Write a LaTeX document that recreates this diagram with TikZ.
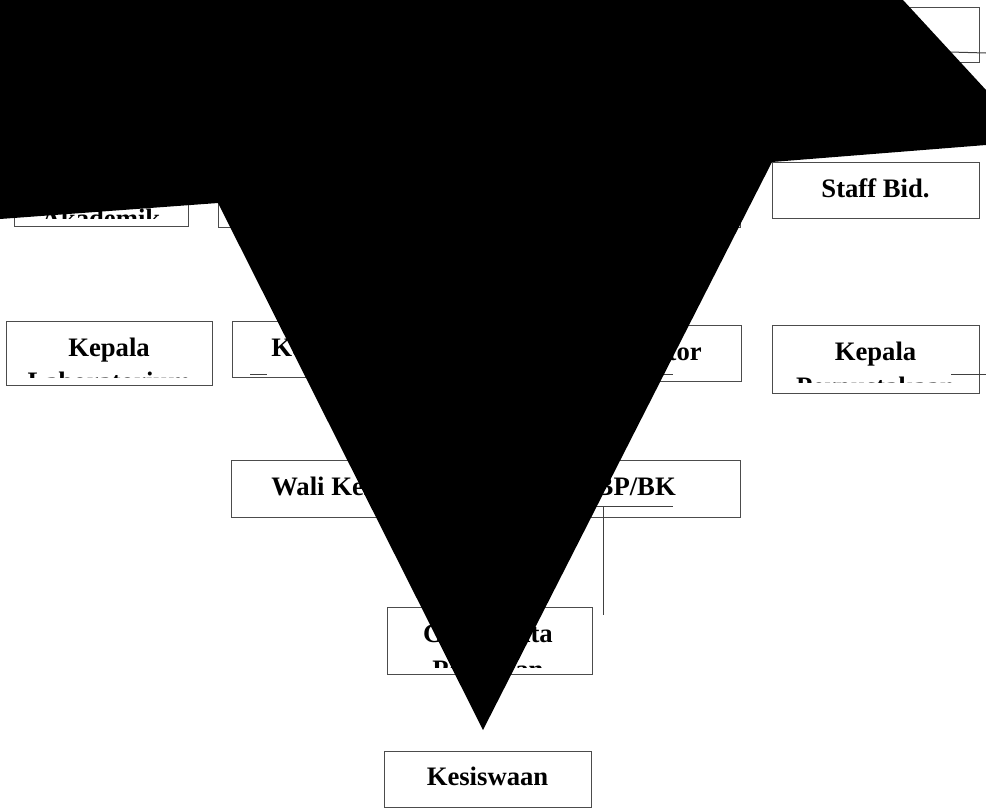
\documentclass[tikz,border=0pt]{standalone}
\usepackage{fontspec}
\setmainfont{Liberation Serif}
\usetikzlibrary{positioning}

\begin{document}
\begin{tikzpicture}[x=0.75pt,y=-0.75pt]
  \tikzset{box/.style= {draw=black!70, line width=0.75pt, rectangle, inner sep=0pt},
    lbl/.style= {inner sep=0pt, anchor=base, font=\fontsize{20}{24}\selectfont\bfseries},
    wire/.style= {draw=black!75, line width=0.75pt}}
  \clip (0,0) rectangle (986,810);
  \fill[white] (0,0) rectangle (986,810);

  % first row
  \node[box, minimum width=155.25pt, minimum height=41.25pt] (top) at (875.5,34.5) {};
  \node[box, minimum width=130.5pt, minimum height=45pt] (akademik) at (101,196) {};
  \node[box, minimum width=391.5pt, minimum height=45.75pt] (wakil) at (479,196.5) {};
  \node[box, minimum width=155.25pt, minimum height=42pt] (staff) at (875.5,190) {};
  \node[lbl] (stafftxt) at (875.5,197) {Staff Bid.};
  \begin{scope}
    \clip (14,166) rectangle (188,218);
    \node[lbl] (akademiktxt) at (101,227) {Akademik};
  \end{scope}

  % second row
  \node[box, minimum width=154.5pt, minimum height=48pt] (lab) at (109,353) {};
  \node[box, minimum width=153pt, minimum height=42pt] (tu) at (334,349) {};
  \node[box, minimum width=165.75pt, minimum height=42pt] (koord) at (630.5,353) {};
  \node[box, minimum width=155.25pt, minimum height=51pt] (perpus) at (875.5,359) {};
  \begin{scope}
    \clip (6,321) rectangle (212,377);
    \node[lbl] (labtxt) at (109,356) {Kepala};
    \node[lbl] (labtxtb) at (109,390) {Laboratorium};
  \end{scope}
  \node[lbl, anchor=base west] (tutxt) at (271,356) {Kepala TU};
  \node[lbl, anchor=base east] (koordtxt) at (702,360) {Koordinator};
  \begin{scope}
    \clip (772,325) rectangle (979,382);
    \node[lbl] (perpustxt) at (875.5,360) {Kepala};
    \node[lbl] (perpustxtb) at (875.5,395) {Perpustakaan};
  \end{scope}

  % third row
  \node[box, minimum width=381.75pt, minimum height=42.75pt] (wali) at (485.5,488.5) {};
  \node[lbl, anchor=base west] (walitxt) at (271,495) {Wali Kelas};
  \node[lbl, anchor=base east] (bktxt) at (676,495) {Guru BP/BK};

  % lower rows
  \node[box, minimum width=153.75pt, minimum height=50.25pt] (guru) at (489.5,640.5) {};
  \begin{scope}
    \clip (387,607) rectangle (592,667);
    \node[lbl] (gurutxt) at (488,642) {Guru Mata};
    \node[lbl] (gurutxtb) at (488,678) {Pelajaran};
  \end{scope}
  \node[box, minimum width=155.25pt, minimum height=42pt] (kesiswaan) at (487.5,779) {};
  \node[lbl] (kesiswaantxt) at (487.5,785) {Kesiswaan};

  % connector stubs
  \coordinate (c1) at (950,52);  \coordinate (c1e) at (986,53);
  \coordinate (c2) at (951,374); \coordinate (c2e) at (986,374);
  \coordinate (c3) at (250,374); \coordinate (c3e) at (267,374);
  \coordinate (c4) at (600,374); \coordinate (c4e) at (673,374);
  \coordinate (c5) at (590,506); \coordinate (c5e) at (673,506);
  \coordinate (c6) at (603,506); \coordinate (c6e) at (603,615);
  \path[wire] (c1) -- (c1e);
  \path[wire] (c2) -- (c2e);
  \path[wire] (c3) -- (c3e);
  \path[wire] (c4) -- (c4e);
  \path[wire] (c5) -- (c5e);
  \path[wire] (c6) -- (c6e);

  % black shape over the chart
  \fill[black] (0,0) -- (903,0) -- (986,90) -- (986,145) -- (772,162)
    -- (483,730) -- (218,203) -- (0,219) -- cycle;
\end{tikzpicture}
\end{document}
